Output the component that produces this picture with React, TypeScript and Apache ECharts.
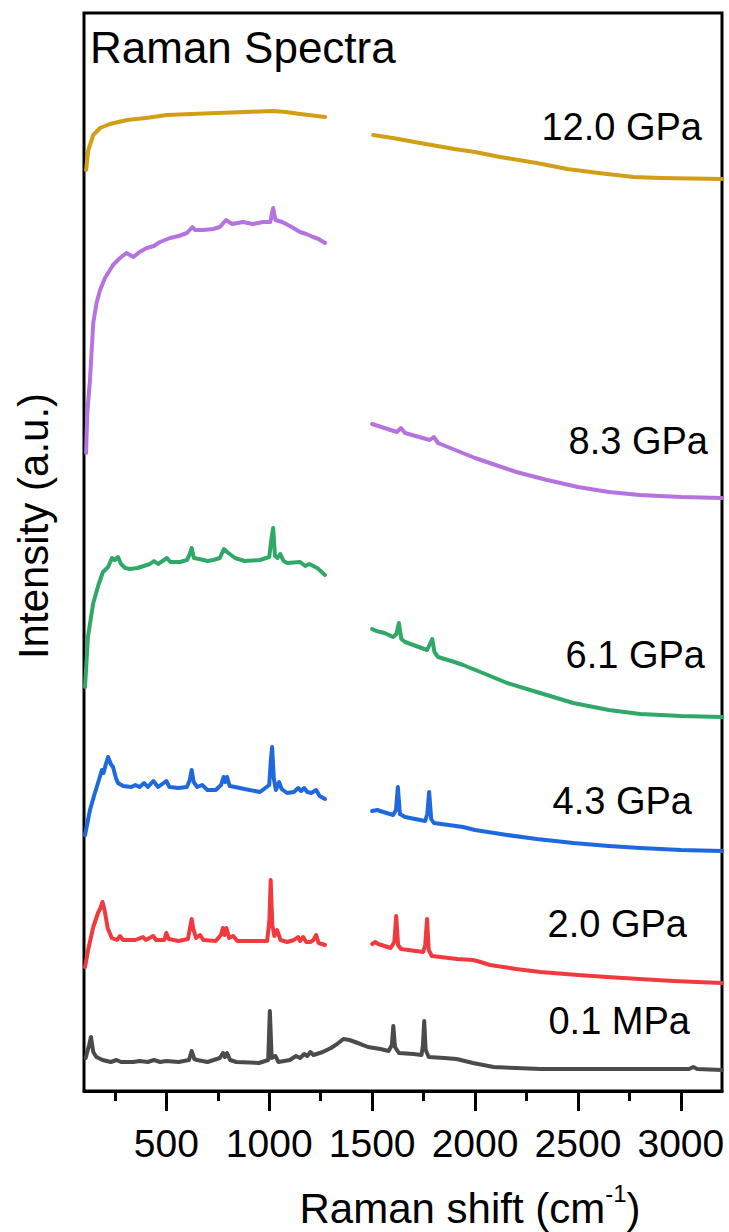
import React, { useEffect, useRef } from "react";
import * as echarts from "echarts";

const FONT = "'Liberation Sans', Arial, Helvetica, sans-serif";

// x axis
const X_MIN = 100;
const X_MAX = 3200;
const xMajorTicks = [500, 1000, 1500, 2000, 2500, 3000];
const xMinorTicks = [250, 750, 1250, 1750, 2250, 2750];

// y axis (arbitrary units, offset spectra)
const Y_MIN = 0;
const Y_MAX = 1078;

const GAP = null; // no data measured in the 1270-1500 window

// 0.1 MPa (gray)
const shift01 = [108, 125, 134, 145, 160, 190, 230, 258, 280, 340, 370, 410, 440, 470, 500, 560, 610, 623, 636, 650, 700, 760, 775, 785, 795, 810, 840, 950, 995, 1003, 1012, 1030, 1045, 1100, 1130, 1150, 1170, 1185, 1200, 1215, 1260, 1300, 1330, 1360, 1390, 1430, 1480, 1540, 1580, 1596, 1603, 1611, 1630, 1700, 1740, 1747, 1753, 1760, 1775, 1850, 1910, 1990, 2040, 2090, 2200, 2320, 2640, 3040, 3060, 3080, 3200];
const int01 = [33, 46, 54, 39, 34, 31, 29, 31, 29, 29, 30, 29, 31, 29, 30, 29, 31, 40, 32, 31, 29, 33, 38, 34, 38, 31, 29, 28, 31, 80, 33, 35, 29, 31, 35, 33, 37, 35, 39, 36, 39, 43, 47, 52, 51, 48, 44, 42, 40, 46, 65, 44, 38, 37, 36, 46, 70, 41, 34, 33, 32, 28, 26, 24, 23, 22, 22, 22, 24, 22, 21];

// 2.0 GPa (red)
const shift20 = [105, 120, 145, 168, 180, 190, 200, 215, 235, 260, 275, 290, 350, 387, 400, 436, 450, 490, 500, 512, 560, 605, 615, 623, 632, 645, 664, 680, 740, 765, 775, 783, 792, 805, 825, 845, 990, 1001, 1007, 1015, 1025, 1038, 1055, 1087, 1120, 1140, 1150, 1165, 1180, 1200, 1215, 1228, 1240, 1271, 1385, 1500, 1515, 1530, 1590, 1608, 1617, 1626, 1640, 1748, 1758, 1767, 1775, 1790, 1913, 1990, 2010, 2073, 2200, 2317, 2500, 2641, 2800, 2963, 3200];
const int20 = [124, 141, 164, 178, 183, 189, 181, 163, 153, 151, 155, 151, 151, 154, 151, 155, 151, 151, 158, 152, 150, 152, 163, 172, 161, 153, 156, 151, 150, 156, 163, 156, 163, 153, 155, 150, 150, 171, 211, 166, 155, 161, 151, 149, 151, 154, 150, 154, 149, 149, 151, 156, 148, 146, GAP, 147, 149, 147, 143, 149, 175, 146, 142, 139, 146, 172, 141, 135, 132, 131, 130, 126, 122, 119, 116, 114, 112, 110, 108];

// 4.3 GPa (blue)
const shift43 = [105, 129, 150, 168, 187, 195, 205, 217, 230, 241, 255, 265, 290, 330, 350, 370, 392, 410, 437, 460, 500, 515, 560, 600, 614, 623, 633, 650, 674, 700, 740, 766, 778, 786, 795, 808, 834, 880, 955, 1000, 1008, 1014, 1022, 1032, 1048, 1060, 1087, 1120, 1141, 1155, 1170, 1185, 1205, 1228, 1245, 1271, 1385, 1500, 1525, 1554, 1602, 1616, 1625, 1635, 1660, 1758, 1768, 1777, 1787, 1800, 1942, 2000, 2156, 2300, 2477, 2650, 2803, 3000, 3200];
const int43 = [256, 281, 296, 308, 321, 318, 326, 334, 327, 324, 313, 308, 305, 304, 306, 304, 308, 304, 310, 304, 310, 304, 303, 304, 311, 321, 309, 304, 306, 301, 301, 306, 314, 309, 314, 305, 304, 302, 299, 306, 331, 344, 313, 301, 309, 302, 298, 299, 303, 300, 303, 299, 298, 301, 295, 292, GAP, 280, 281, 279, 276, 281, 304, 277, 274, 270, 277, 299, 272, 268, 264, 261, 256, 252, 248, 245, 243, 241, 240];

// 6.1 GPa (green)
const shift61 = [105, 119, 145, 170, 192, 217, 236, 250, 265, 280, 300, 323, 360, 405, 420, 440, 460, 503, 520, 567, 600, 612, 623, 634, 660, 700, 728, 760, 780, 795, 834, 880, 955, 1000, 1010, 1019, 1028, 1040, 1053, 1070, 1087, 1150, 1175, 1195, 1233, 1250, 1271, 1385, 1500, 1520, 1560, 1602, 1618, 1630, 1642, 1660, 1767, 1781, 1792, 1803, 1820, 1900, 1942, 2050, 2156, 2300, 2477, 2650, 2803, 3000, 3200];
const int61 = [404, 454, 488, 506, 519, 524, 533, 531, 534, 527, 523, 522, 523, 526, 527, 530, 527, 533, 529, 529, 531, 536, 543, 533, 532, 530, 531, 533, 542, 539, 533, 530, 531, 534, 551, 563, 535, 533, 537, 530, 528, 529, 525, 527, 523, 520, 516, GAP, 462, 460, 458, 454, 457, 468, 452, 449, 441, 447, 452, 439, 434, 429, 426, 417, 408, 399, 388, 381, 377, 375, 374];

// 8.3 GPa (purple)
const shift83 = [110, 116, 129, 145, 161, 178, 202, 241, 275, 307, 340, 370, 405, 440, 469, 518, 560, 600, 627, 640, 680, 728, 760, 790, 820, 873, 920, 970, 1005, 1019, 1030, 1063, 1100, 1150, 1180, 1213, 1240, 1271, 1385, 1500, 1560, 1620, 1640, 1660, 1780, 1800, 1820, 2000, 2100, 2200, 2350, 2500, 2650, 2800, 3000, 3200];
const int83 = [638, 678, 711, 768, 788, 801, 813, 826, 833, 838, 834, 839, 843, 845, 849, 853, 855, 858, 864, 861, 861, 862, 864, 871, 867, 869, 867, 869, 869, 883, 871, 869, 865, 859, 857, 854, 852, 848, GAP, 667, 663, 659, 663, 658, 651, 654, 648, 633, 626, 619, 611, 604, 599, 596, 594, 593];

// 12.0 GPa (gold)
const shift120 = [110, 121, 145, 178, 226, 309, 400, 503, 620, 747, 880, 1019, 1080, 1150, 1271, 1385, 1505, 1600, 1733, 1900, 2000, 2122, 2300, 2448, 2600, 2769, 2900, 3200];
const int120 = [921, 941, 956, 963, 967, 971, 973, 976, 977, 978, 979, 980, 979, 977, 974, GAP, 956, 953, 948, 942, 939, 934, 928, 922, 918, 914, 913, 912];

const seriesNames = ["0.1 MPa", "2.0 GPa", "4.3 GPa", "6.1 GPa", "8.3 GPa", "12.0 GPa"];
const seriesShifts = [shift01, shift20, shift43, shift61, shift83, shift120];
const seriesInts = [int01, int20, int43, int61, int83, int120];
const seriesColors = ["#4b4b4b", "#f03a3d", "#1f68dd", "#2fa868", "#b473df", "#d29f14"];

// label anchors (right edge x, vertical middle y) in pixels
const labelPos = [
  [690, 1021],
  [687, 924],
  [692, 801],
  [705, 655],
  [708, 441],
  [702, 127],
];

export default function App() {
  const ref = useRef<HTMLDivElement>(null);

  useEffect(() => {
    if (!ref.current) return;
    const chart = echarts.init(ref.current, null, { renderer: "svg" });

    const series = seriesNames.map((name, i) => ({
      name,
      type: "line",
      xAxisIndex: 0,
      yAxisIndex: 0,
      data: seriesShifts[i].map((s, j) => [s, seriesInts[i][j] === null ? "-" : seriesInts[i][j]]),
      showSymbol: false,
      symbol: "none",
      connectNulls: false,
      lineStyle: { color: seriesColors[i], width: 4, join: "round", cap: "round" },
      itemStyle: { color: seriesColors[i] },
      z: 2 + i,
    }));

    const labelTexts = seriesNames.map((name, i) => ({
      type: "text",
      x: labelPos[i][0],
      y: labelPos[i][1],
      style: {
        text: name,
        fill: "#000",
        font: `38px ${FONT}`,
        textAlign: "right",
        textVerticalAlign: "middle",
      },
      z: 10,
    }));

    chart.setOption({
      animation: false,
      backgroundColor: "#ffffff",
      grid: {
        left: 84,
        top: 13,
        width: 638,
        height: 1078,
        show: true,
        borderColor: "#000",
        borderWidth: 3,
        backgroundColor: "transparent",
      },
      xAxis: [
        {
          type: "value",
          min: X_MIN,
          max: X_MAX,
          position: "bottom",
          axisLine: { show: true, lineStyle: { color: "#000", width: 3 } },
          axisTick: {
            show: true,
            customValues: xMajorTicks,
            length: 20,
            inside: false,
            lineStyle: { color: "#000", width: 3 },
          },
          axisLabel: {
            show: true,
            customValues: xMajorTicks,
            formatter: (v: number) => String(v),
            margin: 33,
            color: "#000",
            fontSize: 39,
            fontFamily: FONT,
          },
          splitLine: { show: false },
        },
        {
          type: "value",
          min: X_MIN,
          max: X_MAX,
          position: "bottom",
          axisLine: { show: false },
          axisTick: {
            show: true,
            customValues: xMinorTicks,
            length: 10,
            inside: false,
            lineStyle: { color: "#000", width: 3 },
          },
          axisLabel: { show: false },
          splitLine: { show: false },
        },
      ],
      yAxis: {
        type: "value",
        min: Y_MIN,
        max: Y_MAX,
        show: false,
        splitLine: { show: false },
      },
      series,
      graphic: [
        {
          type: "text",
          x: 90,
          y: 47,
          style: {
            text: "Raman Spectra",
            fill: "#000",
            font: `44px ${FONT}`,
            textAlign: "left",
            textVerticalAlign: "middle",
          },
          z: 10,
        },
        {
          type: "text",
          x: 33,
          y: 526,
          rotation: Math.PI / 2,
          style: {
            text: "Intensity (a.u.)",
            fill: "#000",
            font: `42px ${FONT}`,
            textAlign: "center",
            textVerticalAlign: "middle",
          },
          z: 10,
        },
        {
          type: "text",
          x: 470,
          y: 1205,
          style: {
            text: "{a|Raman shift (cm}{s|-1}{a|)}",
            fill: "#000",
            textAlign: "center",
            textVerticalAlign: "middle",
            rich: {
              a: { fontSize: 42, fontFamily: FONT, color: "#000", lineHeight: 48, verticalAlign: "bottom" },
              s: { fontSize: 24, fontFamily: FONT, color: "#000", lineHeight: 24, verticalAlign: "top" },
            },
          },
          z: 10,
        },
        ...labelTexts,
      ],
    });

    return () => chart.dispose();
  }, []);

  return (
    <div
      ref={ref}
      style={{ position: "fixed", left: 0, top: 0, width: 729, height: 1232, background: "#fff" }}
    />
  );
}
